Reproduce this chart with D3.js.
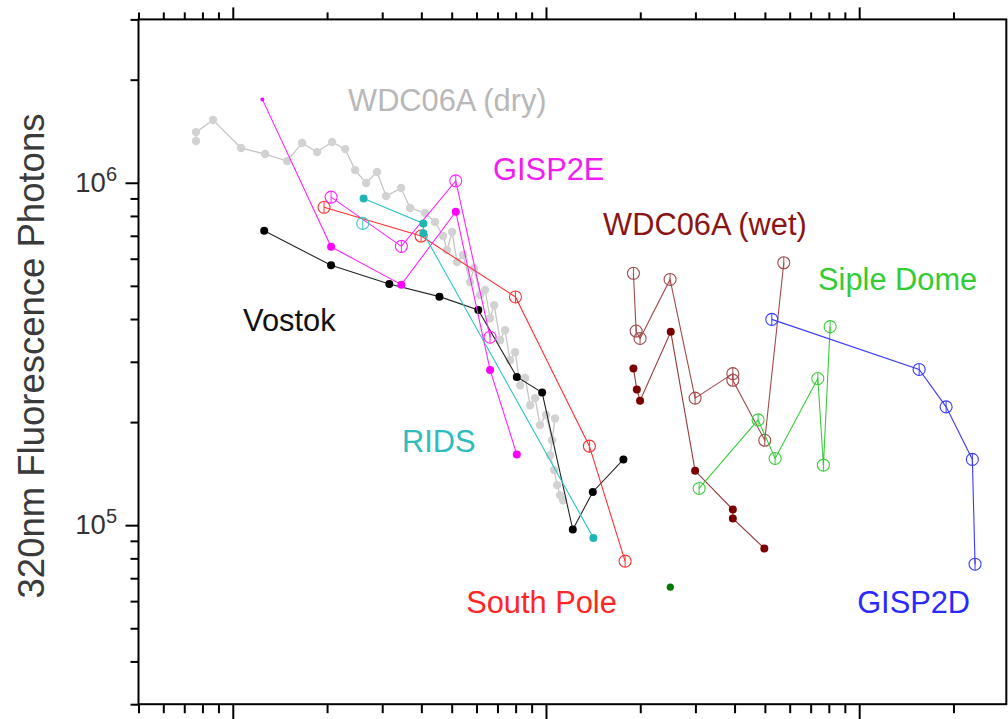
<!DOCTYPE html>
<html>
<head>
<meta charset="utf-8">
<script src="https://cdn.jsdelivr.net/npm/d3@7"></script>
<style>
  body { margin: 0; background: #fff; }
  svg { display: block; }
  text { font-family: "Liberation Sans", Arial, Helvetica, sans-serif; }
</style>
</head>
<body>
<svg id="chart" width="1008" height="719"></svg>
<script>
// ---- Series values (x on a log axis, y = 320nm fluorescence photons) ----
const dryX = [0.763, 0.763, 0.865, 1.063, 1.268, 1.491, 1.664, 1.858, 2.075, 2.284, 2.458, 2.665, 2.888,
              3.086, 3.446, 3.683, 4.111, 4.425, 4.693, 4.833, 5.014, 5.20, 5.436, 5.723, 5.893, 6.16,
              6.392, 6.63, 6.83, 7.14, 7.40, 7.68, 7.97, 8.27, 8.58, 8.90, 9.23, 9.57, 10.01, 10.46,
              10.69, 10.31, 10.61, 10.85, 11.09, 11.34];
const dryY = [1.324e6, 1.406e6, 1.525e6, 1.263e6, 1.213e6, 1.157e6, 1.306e6, 1.229e6, 1.315e6, 1.254e6,
              1.089e6, 9.98e5, 1.075e6, 9.14e5, 9.65e5, 8.44e5, 8.16e5, 7.68e5, 6.99e5, 6.36e5, 7.18e5,
              5.87e5, 6.15e5, 5.13e5, 5.63e5, 4.70e5, 4.86e5, 4.02e5, 4.39e5, 3.47e5, 3.71e5, 3.03e5,
              3.20e5, 2.56e5, 2.69e5, 2.24e5, 2.35e5, 1.96e5, 2.10e5, 1.77e5, 2.05e5, 1.60e5, 1.448e5,
              1.309e5, 1.224e5, 1.183e5];

const vostokX = [1.26, 2.06, 3.16, 4.57, 6.08, 8.07, 9.72, 12.18, 14.11, 17.67];
const vostokY = [7.24e5, 5.74e5, 5.06e5, 4.65e5, 4.25e5, 2.71e5, 2.44e5, 9.71e4, 1.25e5, 1.556e5];

const gisp2eSolidX = [1.243, 2.06, 3.454, 5.152, 6.63, 8.07];
const gisp2eSolidY = [1.752e6, 6.50e5, 5.04e5, 8.23e5, 2.84e5, 1.609e5];
const gisp2eOpenX = [2.06, 3.454, 5.152, 6.63];
const gisp2eOpenY = [9.08e5, 6.52e5, 1.013e6, 3.54e5];

const ridsSolidX = [2.616, 4.06, 4.06, 14.17];
const ridsSolidY = [9.0e5, 7.61e5, 7.12e5, 9.18e4];
const ridsOpenX = [2.60];
const ridsOpenY = [7.61e5];

const southPoleX = [1.956, 3.993, 7.99, 13.76, 17.89];
const southPoleY = [8.48e5, 6.99e5, 4.64e5, 1.701e5, 7.85e4];

const wetOpenX = [19.02, 19.40, 19.97, 24.9, 29.93, 39.5, 39.5, 49.95, 57.45];
const wetOpenY = [5.44e5, 3.69e5, 3.51e5, 5.22e5, 2.35e5, 2.77e5, 2.65e5, 1.77e5, 5.84e5];
const wetSolidX = [19.02, 19.5, 19.97, 25.03, 29.93, 39.5, 39.5, 49.8];
const wetSolidY = [2.87e5, 2.49e5, 2.31e5, 3.67e5, 1.441e5, 1.111e5, 1.046e5, 8.55e4];

const sipleOpenX = [30.83, 47.56, 53.9, 73.78, 76.88, 80.77];
const sipleOpenY = [1.28e5, 2.03e5, 1.566e5, 2.68e5, 1.497e5, 3.80e5];
const sipleSolidX = [24.95];
const sipleSolidY = [6.59e4];

const gisp2dX = [52.6, 155.4, 189.5, 229.8, 234.4];
const gisp2dY = [3.99e5, 2.85e5, 2.216e5, 1.556e5, 7.69e4];

// ---- Axis ticks ----
const xMinorTicks = [0.5, 0.6, 0.7, 0.8, 0.9, 2, 3, 4, 5, 6, 7, 8, 9, 20, 30, 40, 50, 60, 70, 80, 90, 200];
const xMajorTicks = [1, 10, 100];
const yMinorTicks = [3e4, 4e4, 5e4, 6e4, 7e4, 8e4, 9e4, 2e5, 3e5, 4e5, 5e5, 6e5, 7e5, 8e5, 9e5, 2e6, 3e6];
const yMajorTicks = [1e5, 1e6];
const yTickExponents = [5, 6];

// ---- Series labels (anchored at a data position) ----
const labelNames = ["WDC06A (dry)", "GISP2E", "Vostok", "WDC06A (wet)", "Siple Dome", "RIDS", "South Pole", "GISP2D"];
const labelX = [2.334, 6.78, 1.079, 15.22, 73.9, 3.471, 5.56, 98.5];
const labelY = [1.62e6, 1.018e6, 3.69e5, 7.04e5, 4.86e5, 1.634e5, 5.53e4, 5.53e4];
const labelColors = ["#b8b8b8", "#f01cf0", "#111111", "#8a1515", "#33cc33", "#2ebcbc", "#ff2525", "#2a2aff"];

// ---- Scales ----
const x = d3.scaleLog().domain([0.5, 295]).range([138.5, 138.5 + 313.2 * Math.log10(590)]);
const y = d3.scaleLog().domain([3e4, 3e6]).range([704.2, 19.4]);

const svg = d3.select("#chart");
const [x0, x1] = x.range();
const [y0, y1] = y.range(); // y0 bottom, y1 top

// ---- Series table ----
const zip = (xs, ys) => xs.map((v, i) => ({ x: v, y: ys[i] }));
const series = [
  { pts: zip(dryX, dryY), line: "#c6c6c6", mark: "solid", color: "#d2d2d2", r: 4.2, lw: 1.3 },
  { pts: zip(vostokX, vostokY), line: "#222", mark: "solid", color: "#000", r: 4, lw: 1.1 },
  { pts: zip(southPoleX, southPoleY), line: "#ff3030", mark: "open", color: "#ff3030", r: 6, lw: 1.1 },
  { pts: zip(gisp2eOpenX, gisp2eOpenY), line: "#ff22ff", mark: "open", color: "#ff22ff", r: 6, lw: 1.1 },
  { pts: zip(gisp2eSolidX, gisp2eSolidY), line: "#ff22ff", mark: "solid", color: "#ff00ff", r: 4, lw: 1.1, firstSmall: true },
  { pts: zip(ridsSolidX, ridsSolidY), line: "#2ec4c4", mark: "solid", color: "#1fb5b5", r: 4, lw: 1.1 },
  { pts: zip(ridsOpenX, ridsOpenY), line: "#3cc8c8", mark: "open", color: "#3cc8c8", r: 6, lw: 1.1 },
  { pts: zip(wetOpenX, wetOpenY), line: "#a04a4a", mark: "open", color: "#a04a4a", r: 6, lw: 1.1 },
  { pts: zip(wetSolidX, wetSolidY), line: "#963838", mark: "solid", color: "#7a0000", r: 4, lw: 1.1 },
  { pts: zip(sipleOpenX, sipleOpenY), line: "#3ccc3c", mark: "open", color: "#3ccc3c", r: 6, lw: 1.1 },
  { pts: zip(sipleSolidX, sipleSolidY), line: "#007a00", mark: "solid", color: "#007a00", r: 3.6, lw: 1.1 },
  { pts: zip(gisp2dX, gisp2dY), line: "#3a3aff", mark: "open", color: "#3a3aff", r: 6, lw: 1.1 }
];

const plot = svg.append("g");
const lineGen = d3.line().x(d => x(d.x)).y(d => y(d.y));

series.forEach(s => {
  const g = plot.append("g");
  if (s.pts.length > 1) {
    g.append("path").attr("d", lineGen(s.pts))
      .attr("fill", "none").attr("stroke", s.line).attr("stroke-width", s.lw);
  }
  if (s.mark === "solid") {
    g.selectAll("circle").data(s.pts).join("circle")
      .attr("cx", d => x(d.x)).attr("cy", d => y(d.y))
      .attr("r", (d, i) => (s.firstSmall && i === 0) ? 2 : s.r)
      .attr("fill", s.color);
  } else {
    const m = g.selectAll("g.m").data(s.pts).join("g").attr("class", "m")
      .attr("transform", d => `translate(${x(d.x)},${y(d.y)})`);
    m.append("circle").attr("r", s.r).attr("fill", "none")
      .attr("stroke", s.color).attr("stroke-width", 1.1);
    m.append("line").attr("x1", 0).attr("x2", 0).attr("y1", -s.r).attr("y2", s.r)
      .attr("stroke", s.color).attr("stroke-width", 1);
  }
});

// ---- Frame and ticks ----
svg.append("rect")
  .attr("x", x0).attr("y", y1).attr("width", x1 - x0).attr("height", y0 - y1)
  .attr("fill", "none").attr("stroke", "#000").attr("stroke-width", 2);

function tickAxis(axisFn, scale, values, size, transform) {
  const a = axisFn(scale).tickValues(values).tickSize(size).tickFormat("");
  const g = svg.append("g").attr("transform", transform).call(a);
  g.select(".domain").remove();
  g.selectAll(".tick line").attr("stroke", "#000").attr("stroke-width", 2);
  return g;
}
tickAxis(d3.axisTop, x, xMinorTicks, 7, `translate(0,${y1})`);
tickAxis(d3.axisTop, x, xMajorTicks, 12, `translate(0,${y1})`);
tickAxis(d3.axisBottom, x, xMinorTicks, 9, `translate(0,${y0})`);
tickAxis(d3.axisBottom, x, xMajorTicks, 16, `translate(0,${y0})`);
tickAxis(d3.axisLeft, y, yMinorTicks, 8, `translate(${x0},0)`);
tickAxis(d3.axisLeft, y, yMajorTicks, 13, `translate(${x0},0)`);

// y tick labels as powers of ten
yMajorTicks.forEach((v, i) => {
  const t = svg.append("text")
    .attr("x", 117).attr("y", y(v) + 9)
    .attr("text-anchor", "end")
    .attr("fill", "#333").attr("font-size", 27.5);
  t.append("tspan").text("10");
  t.append("tspan").attr("dy", -11).attr("font-size", 20).text(yTickExponents[i]);
});

// y axis title
svg.append("text")
  .attr("transform", `translate(44,356) rotate(-90)`)
  .attr("text-anchor", "middle")
  .attr("fill", "#3a3a3a").attr("font-size", 36.5)
  .text("320nm Fluorescence Photons");

// ---- Series labels ----
labelNames.forEach((name, i) => {
  svg.append("text")
    .attr("x", x(labelX[i])).attr("y", y(labelY[i]))
    .attr("fill", labelColors[i]).attr("font-size", 30.8)
    .text(name);
});
</script>
</body>
</html>
